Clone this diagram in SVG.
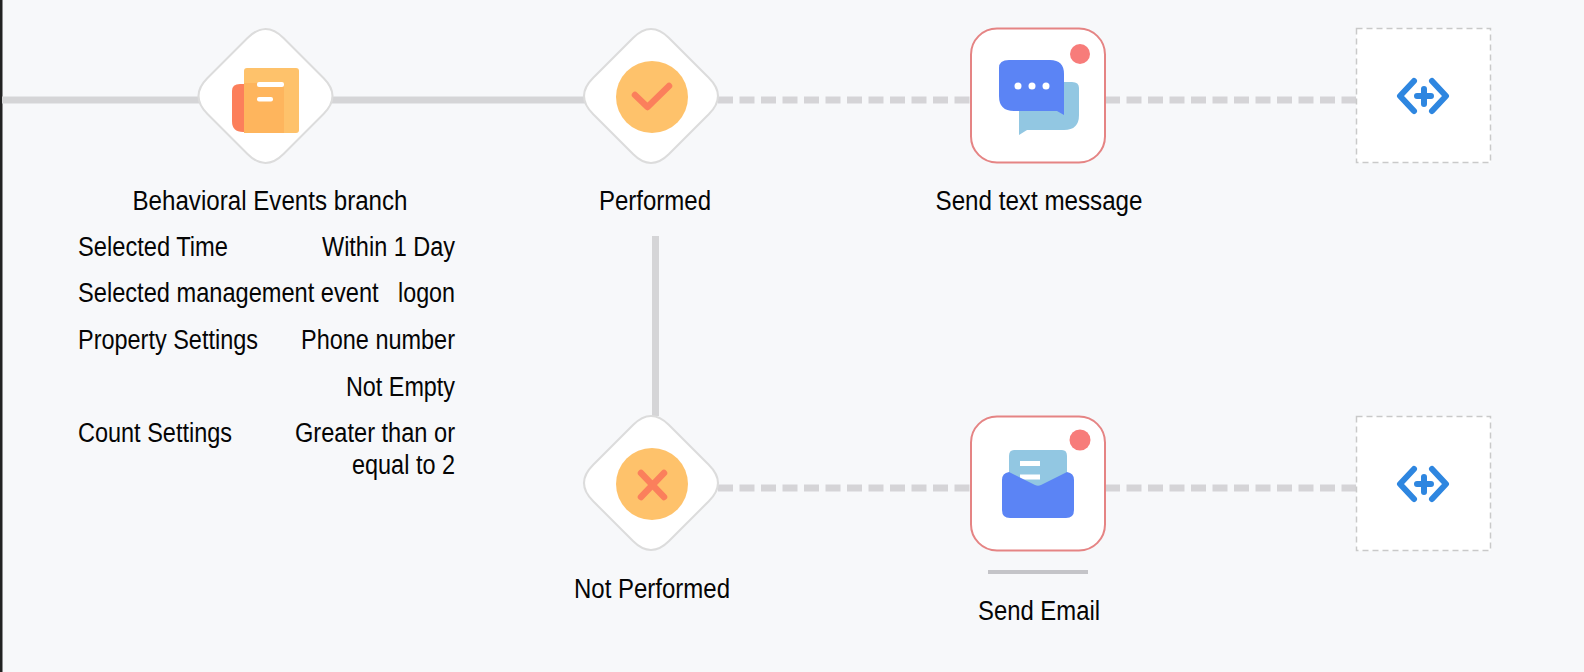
<svg xmlns="http://www.w3.org/2000/svg" width="1584" height="672" viewBox="0 0 1584 672">
<style>
text{font-family:"Liberation Sans",Arial,sans-serif;font-size:27px;fill:#050505}
.m{text-anchor:middle}.e{text-anchor:end}
.solid{stroke:#d5d5d7;stroke-width:7;fill:none}
.dash{stroke:#d5d4d7;stroke-width:7;fill:none;stroke-dasharray:15 6.5}
.dia{fill:#fff;stroke:#dcdcdc;stroke-width:2}
.sq{fill:#fff;stroke:#e58484;stroke-width:2}
.dot{fill:#f77c7a}
.add{fill:#fff;stroke:#c9c9c9;stroke-width:1.5;stroke-dasharray:6 4}
.ico{fill:none;stroke:#2e86e0;stroke-width:6;stroke-linecap:round;stroke-linejoin:round}
.mk{fill:none;stroke:#fb7f5c;stroke-width:6.5;stroke-linecap:round;stroke-linejoin:round}
.wl{fill:#fff}
</style>
<defs>
<path id="d" class="dia" d="M-18 -58Q0 -76 18 -58L58 -18Q76 0 58 18L18 58Q0 76 -18 58L-58 18Q-76 0 -58 -18Z"/>
</defs>
<rect width="1584" height="672" fill="#f7f8fa"/>
<rect width="2.500" height="672" fill="#222"/>
<g id="connectors">
<path class="solid" d="M2 100H200M330 100H586"/>
<path class="solid" d="M655.500 236V416"/>
<path class="dash" d="M718 100H971M1105 100H1356"/>
<path class="dash" d="M718 488H971M1105 488H1356"/>
</g>
<g id="node-branch">
<use href="#d" x="265.500" y="96"/>
<path d="M244 84V132H243Q232 132 232 121V91Q232 84 240 84Z" fill="#fc7f5b"/>
<rect x="244" y="68" width="55" height="65" rx="3" fill="#fec26b"/>
<path d="M244 83H284V133H244Z" fill="#feb55d"/>
<rect x="257" y="82" width="27" height="5" rx="2" class="wl"/>
<rect x="257" y="97" width="16" height="4.500" rx="2" class="wl"/>
<text class="m" x="270" y="210" textLength="275" lengthAdjust="spacingAndGlyphs">Behavioral Events branch</text>
<text x="78" y="256" textLength="150" lengthAdjust="spacingAndGlyphs">Selected Time</text>
<text class="e" x="455" y="256" textLength="133" lengthAdjust="spacingAndGlyphs">Within 1 Day</text>
<text transform="translate(78 302) scale(.875 1)">Selected management event</text>
<text class="e" x="455" y="302" textLength="57" lengthAdjust="spacingAndGlyphs">logon</text>
<text x="78" y="349" textLength="180" lengthAdjust="spacingAndGlyphs">Property Settings</text>
<text class="e" x="455" y="349" textLength="154" lengthAdjust="spacingAndGlyphs">Phone number</text>
<text class="e" x="455" y="396" textLength="109" lengthAdjust="spacingAndGlyphs">Not Empty</text>
<text x="78" y="442" textLength="154" lengthAdjust="spacingAndGlyphs">Count Settings</text>
<text class="e" x="455" y="442" textLength="160" lengthAdjust="spacingAndGlyphs">Greater than or</text>
<text class="e" x="455" y="474" textLength="103" lengthAdjust="spacingAndGlyphs">equal to 2</text>
</g>
<g id="node-performed">
<use href="#d" x="651" y="96"/>
<ellipse cx="652" cy="97" rx="36" ry="36" fill="#fec26b"/>
<path class="mk" d="M635 95L647.500 107L669 86"/>
<text class="m" x="655" y="210" textLength="112" lengthAdjust="spacingAndGlyphs">Performed</text>
</g>
<g id="node-sms">
<rect class="sq" x="971" y="28.500" width="134" height="134" rx="26"/>
<circle class="dot" cx="1080" cy="54" r="10"/>
<path d="M1019 82H1072Q1079 82 1079 88V115Q1079 130 1064 130H1027L1019 135Z" fill="#92c7e2"/>
<path d="M1009 60H1050Q1064 60 1064 74V115L1057 111H1014Q999 111 999 96V68Q999 60 1009 60Z" fill="#5b84f5"/>
<circle class="wl" cx="1018" cy="86" r="3.500"/><circle class="wl" cx="1032" cy="86" r="3.500"/><circle class="wl" cx="1046" cy="86" r="3.500"/>
<text class="m" x="1039" y="210" textLength="207" lengthAdjust="spacingAndGlyphs">Send text message</text>
</g>
<g id="node-add-1">
<rect class="add" x="1356.500" y="28.500" width="134" height="134"/>
<path class="ico" d="M1414 81L1400 96L1414 111M1432 81L1446 96L1432 111M1417 96H1431M1424 89V104"/>
</g>
<g id="node-not-performed">
<use href="#d" x="651" y="483"/>
<ellipse cx="652" cy="484" rx="36" ry="36" fill="#fec26b"/>
<path class="mk" d="M641 473L664 497M664 473L641 497"/>
<text class="m" x="652" y="598" textLength="156" lengthAdjust="spacingAndGlyphs">Not Performed</text>
</g>
<g id="node-email">
<rect class="sq" x="971" y="416.500" width="134" height="134" rx="26"/>
<circle class="dot" cx="1080" cy="440" r="10.500"/>
<path d="M1014 450H1062Q1067 450 1067 456V490H1009V456Q1009 450 1014 450Z" fill="#92c7e2"/>
<rect x="1020" y="461" width="20" height="5" class="wl"/>
<rect x="1020" y="474.500" width="20" height="5" class="wl"/>
<path d="M1002 480Q1002 473 1009 472L1035 485Q1038 486.500 1041 485L1067 472Q1074 473 1074 480V510Q1074 518 1066 518H1010Q1002 518 1002 510Z" fill="#5b84f5"/>
<rect x="988" y="570" width="100" height="4" fill="#c4c4c8"/>
<text class="m" x="1039" y="620" textLength="122" lengthAdjust="spacingAndGlyphs">Send Email</text>
</g>
<g id="node-add-2">
<rect class="add" x="1356.500" y="416.500" width="134" height="134"/>
<path class="ico" d="M1414 469L1400 484L1414 499M1432 469L1446 484L1432 499M1417 484H1431M1424 477V492"/>
</g>
</svg>
